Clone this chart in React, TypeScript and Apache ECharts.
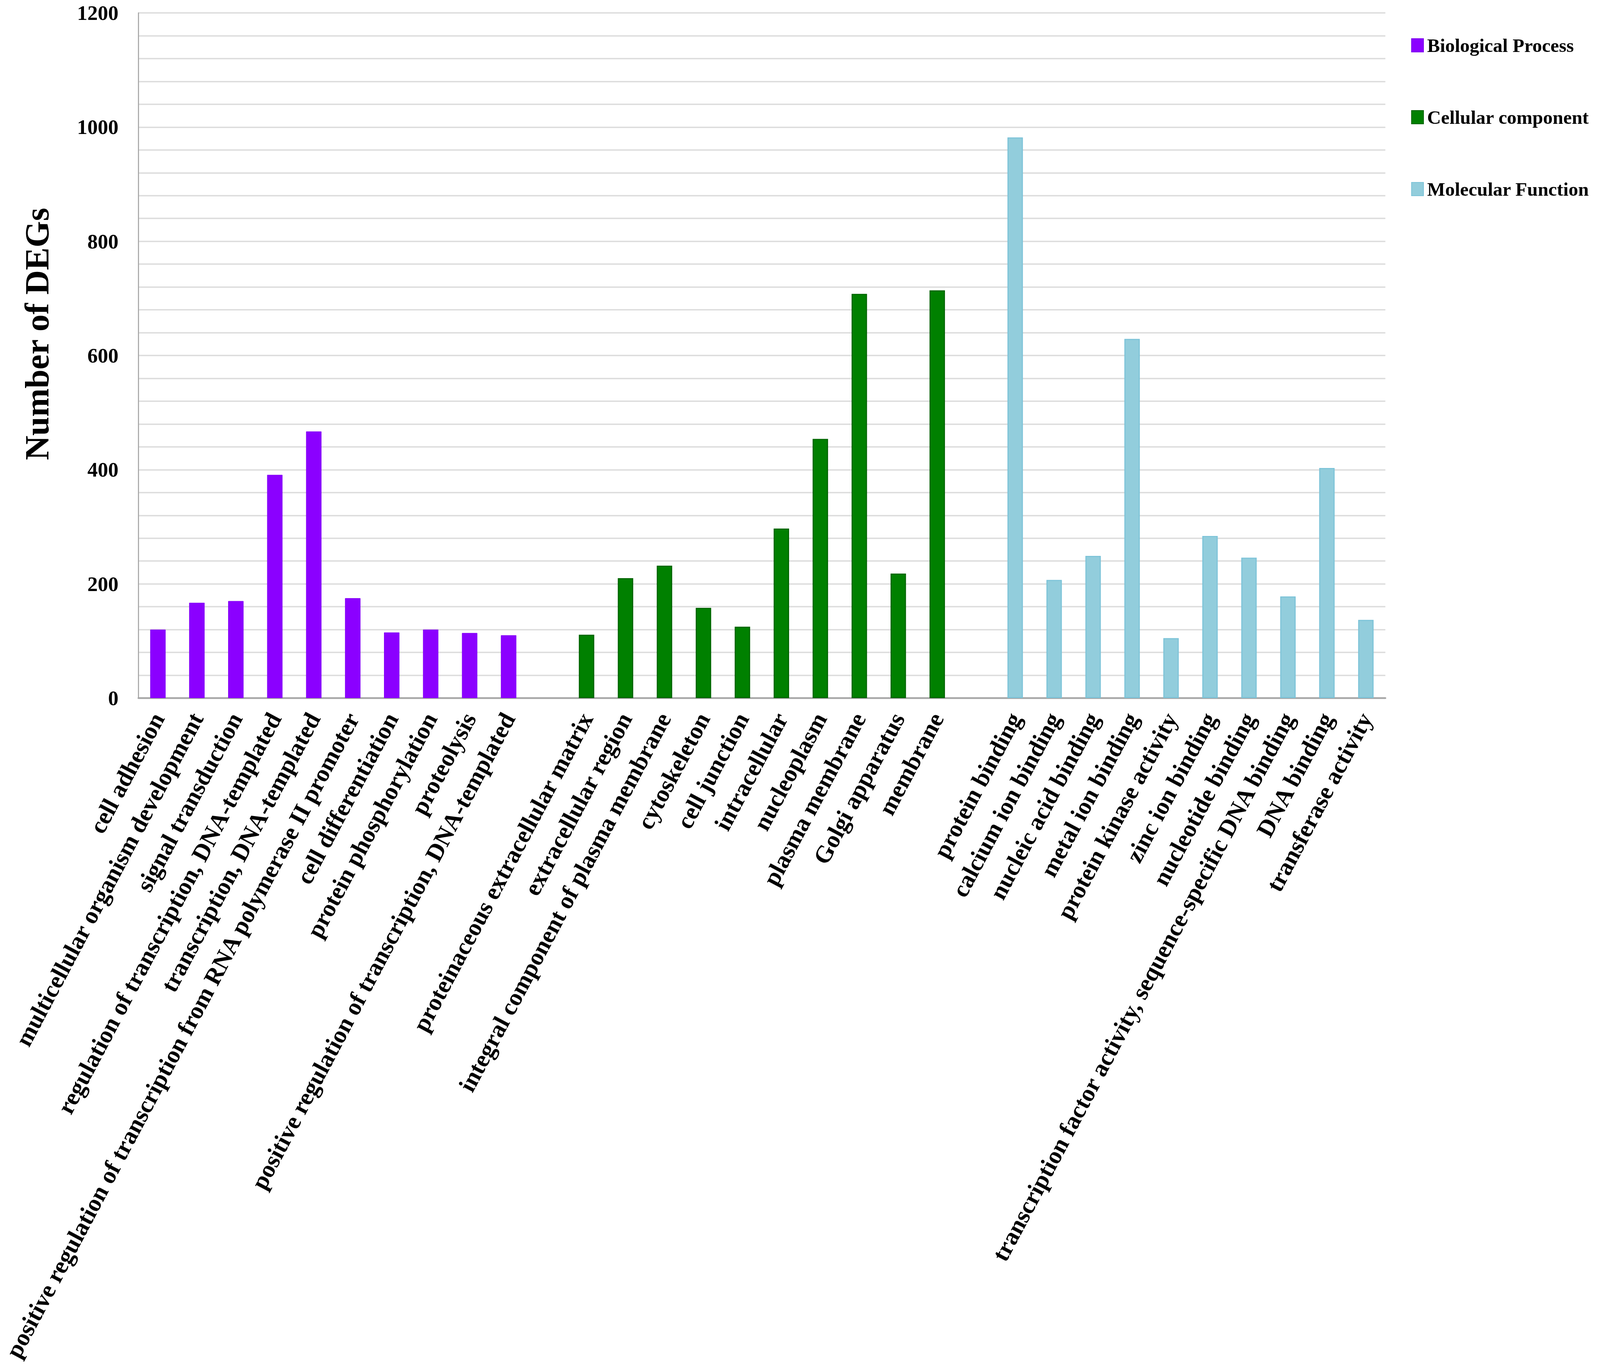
import React, { useEffect, useRef, useState } from "react";
import * as echarts from "echarts";

const bpCategories = [
  "cell adhesion",
  "multicellular organism development",
  "signal transduction",
  "regulation of transcription, DNA-templated",
  "transcription, DNA-templated",
  "positive regulation of transcription from RNA polymerase II promoter",
  "cell differentiation",
  "protein phosphorylation",
  "proteolysis",
  "positive regulation of transcription, DNA-templated",
];
const bpValues = [120, 167, 170, 391, 467, 175, 115, 120, 114, 110];

const ccCategories = [
  "proteinaceous extracellular matrix",
  "extracellular region",
  "integral component of plasma membrane",
  "cytoskeleton",
  "cell junction",
  "intracellular",
  "nucleoplasm",
  "plasma membrane",
  "Golgi apparatus",
  "membrane",
];
const ccValues = [111, 210, 232, 158, 125, 297, 454, 708, 218, 714];

const mfCategories = [
  "protein binding",
  "calcium ion binding",
  "nucleic acid binding",
  "metal ion binding",
  "protein kinase activity",
  "zinc ion binding",
  "nucleotide binding",
  "transcription factor activity, sequence-specific DNA binding",
  "DNA binding",
  "transferase activity",
];
const mfValues = [982, 207, 249, 629, 105, 284, 246, 178, 403, 137];

const seriesNames = ["Biological Process", "Cellular component", "Molecular Function"];
const yTicks = [0, 200, 400, 600, 800, 1000, 1200];

const FONT = "'Liberation Serif', 'Times New Roman', serif";
const REF_W = 4562;
const REF_H = 3507;

export default function App() {
  const ref = useRef<HTMLDivElement>(null);
  const [size] = useState(() => ({
    w: window.innerWidth || REF_W,
    h: window.innerHeight || REF_H,
  }));
  useEffect(() => {
    document.body.style.margin = "0";
    document.body.style.overflow = "hidden";
    if (!ref.current) return;
    const chart = echarts.init(ref.current, null, { renderer: "svg" });
    const sx = size.w / REF_W;
    const sy = size.h / REF_H;
    const fs = Math.min(sx, sy);
    const fh = sy; // for mostly vertical texts

    const categories = [...bpCategories, "", ...ccCategories, " ", ...mfCategories];
    const n = categories.length;
    const pad = (vals: number[], start: number) => {
      const arr: (number | string)[] = new Array(n).fill("-");
      vals.forEach((v, i) => (arr[start + i] = v));
      return arr;
    };
    const bpData = pad(bpValues, 0);
    const ccData = pad(ccValues, bpCategories.length + 1);
    const mfData = pad(mfValues, bpCategories.length + ccCategories.length + 2);

    const legendFont = 54.5 * sx;
    const option: any = {
      animation: false,
      backgroundColor: "#ffffff",
      grid: {
        left: 343 * sx,
        right: 612 * sx,
        top: 33 * sy,
        bottom: 1720 * sy,
        containLabel: false,
      },
      legend: {
        orient: "vertical",
        left: 4018 * sx,
        top: 111 * sy - legendFont * 0.6,
        itemWidth: 34 * sx,
        itemHeight: 34 * sy,
        itemGap: 184 * sy - legendFont * 1.2,
        icon: "rect",
        data: seriesNames,
        textStyle: {
          fontFamily: FONT,
          fontWeight: "bold",
          fontSize: legendFont,
          lineHeight: legendFont * 1.2,
          color: "#000",
          padding: [0, 0, 0, 5 * sx],
        },
      },
      xAxis: {
        type: "category",
        data: categories,
        axisTick: { show: false },
        axisLine: { lineStyle: { color: "#a6a6a6", width: 5 * fs } },
        axisLabel: {
          interval: 0,
          rotate: 62,
          margin: 42 * sy,
          fontFamily: FONT,
          fontWeight: "bold",
          fontSize: 62 * fh,
          color: "#000",
        },
      },
      yAxis: [
        {
          type: "value",
          min: 0,
          max: 1200,
          interval: 200,
          axisLine: { show: true, lineStyle: { color: "#a6a6a6", width: 3 * fs } },
          axisTick: { show: false },
          splitLine: { show: false },
          axisLabel: {
            margin: 57 * sx,
            fontFamily: FONT,
            fontWeight: "bold",
            fontSize: 59 * sx,
            color: "#000",
            formatter: (v: number) => (yTicks.includes(v) ? String(v) : ""),
          },
        },
        {
          type: "value",
          min: 0,
          max: 1200,
          interval: 40,
          position: "left",
          axisLine: { show: false },
          axisTick: { show: false },
          axisLabel: { show: false },
          splitLine: { show: true, lineStyle: { color: "#dcdcdc", width: 4 * fs } },
        },
      ],
      graphic: [
        {
          type: "text",
          x: 105 * sx,
          y: 855 * sy,
          rotation: Math.PI / 2,
          style: {
            text: "Number of DEGs",
            fontFamily: FONT,
            fontWeight: "bold",
            fontSize: 87 * fh,
            fill: "#000",
            align: "center",
            verticalAlign: "middle",
          },
        },
      ],
      series: [
        {
          name: seriesNames[0],
          type: "bar",
          stack: "all",
          barWidth: 44 * sx,
          data: bpData,
          itemStyle: { color: "#8b00ff", borderColor: "#8000f0", borderWidth: 1 },
          z: 3,
        },
        {
          name: seriesNames[1],
          type: "bar",
          stack: "all",
          barWidth: 44 * sx,
          data: ccData,
          itemStyle: { color: "#008000", borderColor: "#006400", borderWidth: 3 * fs },
          z: 3,
        },
        {
          name: seriesNames[2],
          type: "bar",
          stack: "all",
          barWidth: 44 * sx,
          data: mfData,
          itemStyle: { color: "#92cddc", borderColor: "#7cc3d8", borderWidth: 3 * fs },
          z: 3,
        },
      ],
    };
    chart.setOption(option);
    return () => chart.dispose();
  }, [size]);
  return (
    <div
      ref={ref}
      style={{ position: "absolute", left: 0, top: 0, width: size.w, height: size.h }}
    />
  );
}
